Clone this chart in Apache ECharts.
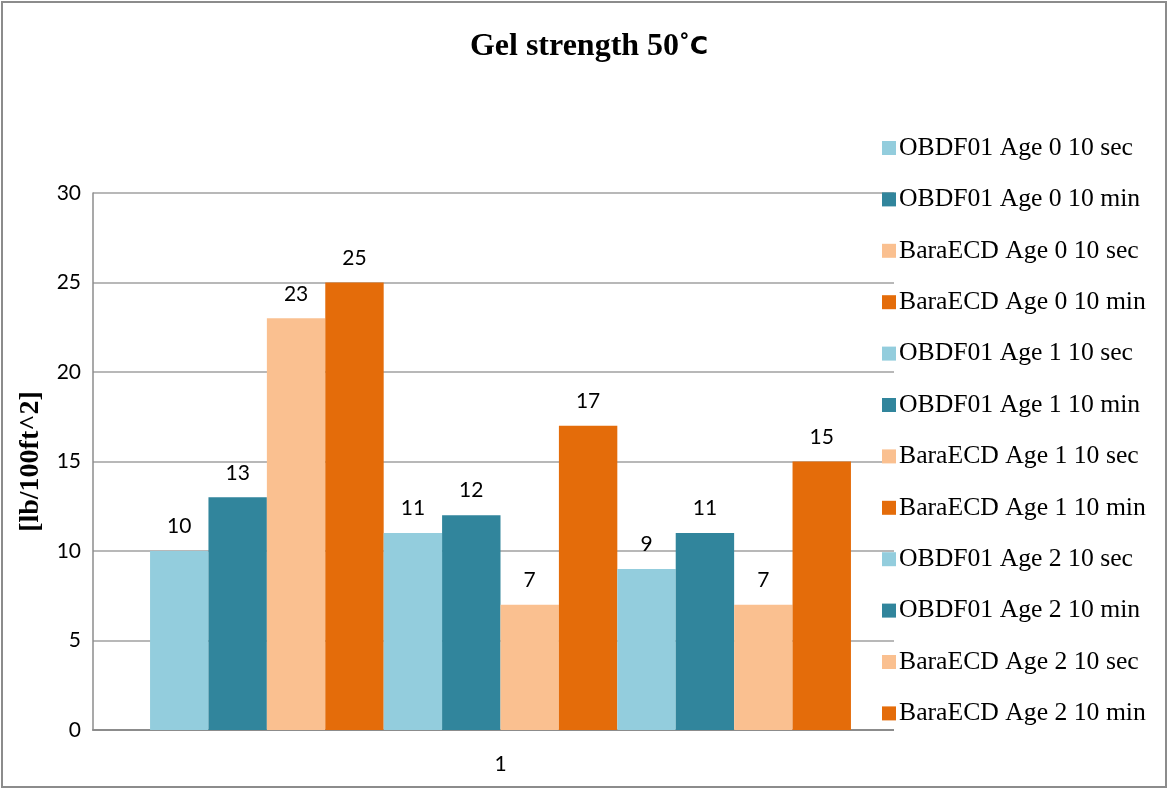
<!DOCTYPE html>
<html>
<head>
<meta charset="utf-8">
<script src="https://cdn.jsdelivr.net/npm/echarts@6/dist/echarts.min.js"></script>
<style>html,body{margin:0;padding:0;background:#fff}#c{width:1169px;height:790px}</style>
</head>
<body>
<div id="c"></div>
<script>
const categories = ['1'];
const seriesNames = [
  'OBDF01 Age 0 10 sec', 'OBDF01 Age 0 10 min', 'BaraECD Age 0 10 sec', 'BaraECD Age 0 10 min',
  'OBDF01 Age 1 10 sec', 'OBDF01 Age 1 10 min', 'BaraECD Age 1 10 sec', 'BaraECD Age 1 10 min',
  'OBDF01 Age 2 10 sec', 'OBDF01 Age 2 10 min', 'BaraECD Age 2 10 sec', 'BaraECD Age 2 10 min'
];
const seriesValues = [10, 13, 23, 25, 11, 12, 7, 17, 9, 11, 7, 15];
const seriesColors = ['#93CDDD', '#31859C', '#FAC090', '#E46C0A'];

const chart = echarts.init(document.getElementById('c'), null, {renderer: 'canvas'});
const series = seriesNames.map((n, i) => ({
  name: n,
  type: 'bar',
  data: [seriesValues[i]],
  barGap: '0%',
  barCategoryGap: '14%',
  itemStyle: {color: seriesColors[i % 4]},
  label: {show: true, position: 'top', distance: 14, color: '#000', fontFamily: 'Lato', fontSize: 21}
}));
chart.setOption({
  animation: false,
  backgroundColor: '#fff',
  title: {
    text: '{a|Gel strength 50˚}{b|C}',
    left: 584, top: 26, textAlign: 'center',
    textStyle: {
      rich: {
        a: {fontFamily: 'Liberation Serif', fontWeight: 'bold', fontSize: 32, color: '#000'},
        b: {fontFamily: 'DejaVu Sans', fontWeight: 'bold', fontSize: 25, color: '#000'}
      }
    }
  },
  graphic: [{
    type: 'rect', shape: {x: 894, y: 180, width: 20, height: 560},
    style: {fill: '#fff'}, z: 3, silent: true
  }, {
    type: 'rect', shape: {x: 2, y: 2, width: 1164, height: 785},
    style: {fill: 'none', stroke: '#8c8c8c', lineWidth: 2}, z: 5, silent: true
  }],
  legend: {
    orient: 'vertical', left: 877, top: 130,
    itemWidth: 14, itemHeight: 14, itemGap: 25.4,
    icon: 'rect',
    textStyle: {fontFamily: 'Liberation Serif', fontSize: 25.7, color: '#000', lineHeight: 26, padding: [0, 0, 0, -2]},
    data: seriesNames
  },
  grid: {left: 93, right: 261, top: 193, bottom: 60, containLabel: false},
  xAxis: {
    type: 'category', data: categories,
    axisLine: {show: true, lineStyle: {color: '#8c8c8c', width: 2}},
    axisTick: {show: false},
    axisLabel: {fontFamily: 'Lato', fontSize: 21, color: '#000', margin: 24}
  },
  yAxis: {
    type: 'value', min: 0, max: 30, interval: 5,
    name: '[lb/100ft^2]', nameLocation: 'middle', nameGap: 48, nameRotate: 90,
    nameTextStyle: {fontFamily: 'Liberation Serif', fontWeight: 'bold', fontSize: 28, color: '#000'},
    axisLine: {show: true, lineStyle: {color: '#8c8c8c', width: 1.5}},
    axisTick: {show: false},
    axisLabel: {fontFamily: 'Lato', fontSize: 21, color: '#000', margin: 12},
    splitLine: {show: true, lineStyle: {color: '#a0a0a0', width: 1.5}}
  },
  series: series
});
</script>
</body>
</html>
